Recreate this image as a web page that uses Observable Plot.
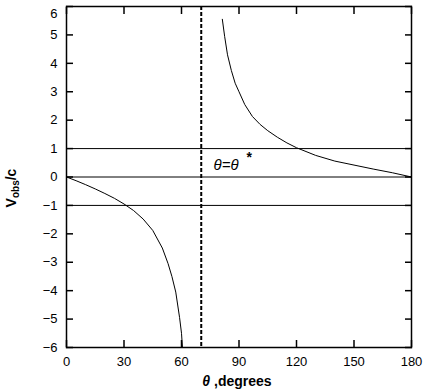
<!DOCTYPE html>
<html>
<head>
<meta charset="utf-8">
<script src="https://cdn.jsdelivr.net/npm/d3@7"></script>
<script src="https://cdn.jsdelivr.net/npm/@observablehq/plot@0.6"></script>
<style>
  html, body { margin: 0; padding: 0; background: #fff; }
  #chart { width: 425px; height: 390px; }
</style>
</head>
<body>
<div id="chart"></div>
<script>
// Left branch (theta < theta*)
const thetaLeft = [0, 5, 10, 15, 20, 25, 30, 35, 40, 45, 50, 53, 55, 57, 59, 60, 60.5];
const vLeft     = [0, -0.13, -0.27, -0.42, -0.58, -0.75, -0.95, -1.18, -1.48, -1.88, -2.5, -3.05, -3.5, -4.05, -4.95, -5.5, -6.0];
// Right branch (theta > theta*)
const thetaRight = [81.3, 82.5, 84, 86, 88, 90, 93, 97, 101, 105, 110, 115, 120, 130, 140, 150, 160, 170, 180];
const vRight     = [5.55, 4.95, 4.3, 3.75, 3.3, 3.0, 2.55, 2.13, 1.85, 1.63, 1.4, 1.2, 1.03, 0.76, 0.56, 0.42, 0.28, 0.15, 0];
// Reference lines
const hLines = [1, 0, -1];
const thetaStar = [70.3];
// Ticks
const xTicks = [0, 30, 60, 90, 120, 150, 180];
const yTicks = [-6, -5, -4, -3, -2, -1, 0, 1, 2, 3, 4, 5, 6];
// Annotation
const annot = [{theta: 76.7, v: 0.4, label: "θ=θ"}];

const left = thetaLeft.map((t, i) => ({theta: t, v: vLeft[i]}));
const right = thetaRight.map((t, i) => ({theta: t, v: vRight[i]}));

const font = "'Liberation Sans', Arial, sans-serif";

const chart = Plot.plot({
  width: 425,
  height: 390,
  marginLeft: 66,
  marginRight: 14,
  marginTop: 6,
  marginBottom: 43,
  style: {background: "#fff", color: "#000", fontFamily: font, fontSize: "13px"},
  x: {domain: [0, 180]},
  y: {domain: [-6, 6]},
  marks: [
    Plot.ruleY(hLines, {stroke: "#000", strokeWidth: 1}),
    Plot.ruleX(thetaStar, {stroke: "#000", strokeWidth: 2, strokeDasharray: "4,2"}),
    Plot.line(left, {x: "theta", y: "v", stroke: "#000", strokeWidth: 1}),
    Plot.line(right, {x: "theta", y: "v", stroke: "#000", strokeWidth: 1}),
    Plot.text(annot, {x: "theta", y: "v", text: "label", textAnchor: "start", fontStyle: "italic", fontSize: 15, fill: "#000"}),
    Plot.text(annot, {x: "theta", y: "v", text: () => "*", textAnchor: "start", dx: 33, dy: -8, fontSize: 14, fontWeight: "bold", fill: "#000"}),
    Plot.axisY({ticks: yTicks, anchor: "left", tickSize: -7, tickPadding: 16, strokeWidth: 1.5, label: null, fontSize: 13}),
    Plot.axisY({ticks: yTicks, anchor: "right", tickSize: -7, tickFormat: () => "", strokeWidth: 1.5, label: null}),
    Plot.axisX({ticks: xTicks, anchor: "bottom", tickSize: -7, tickPadding: 16, strokeWidth: 1.5, label: null, fontSize: 13}),
    Plot.axisX({ticks: xTicks, anchor: "top", tickSize: -7, tickFormat: () => "", strokeWidth: 1.5, label: null}),
    Plot.frame({stroke: "#000", strokeWidth: 1.5})
  ]
});

const svg = d3.select(chart);
// keep the topmost y tick label inside the picture
svg.selectAll("g[aria-label='y-axis tick label'] text")
  .filter(function() { return this.textContent === "6"; })
  .attr("dy", "0.6em");
// y-axis label
const yl = svg.append("text")
  .attr("transform", "translate(16,188) rotate(-90)")
  .attr("text-anchor", "middle")
  .attr("font-family", font)
  .attr("font-size", 14)
  .attr("font-weight", "bold")
  .attr("fill", "#000");
yl.append("tspan").text("V");
yl.append("tspan").attr("font-size", 10).attr("dy", 3).text("obs");
yl.append("tspan").attr("dy", -3).text("/c");
// x-axis label
const xl = svg.append("text")
  .attr("x", 237)
  .attr("y", 386)
  .attr("text-anchor", "middle")
  .attr("font-family", font)
  .attr("font-size", 14)
  .attr("font-weight", "bold")
  .attr("fill", "#000");
xl.append("tspan").attr("font-style", "italic").text("θ");
xl.append("tspan").text(" ,degrees");

document.getElementById("chart").appendChild(chart);
</script>
</body>
</html>
